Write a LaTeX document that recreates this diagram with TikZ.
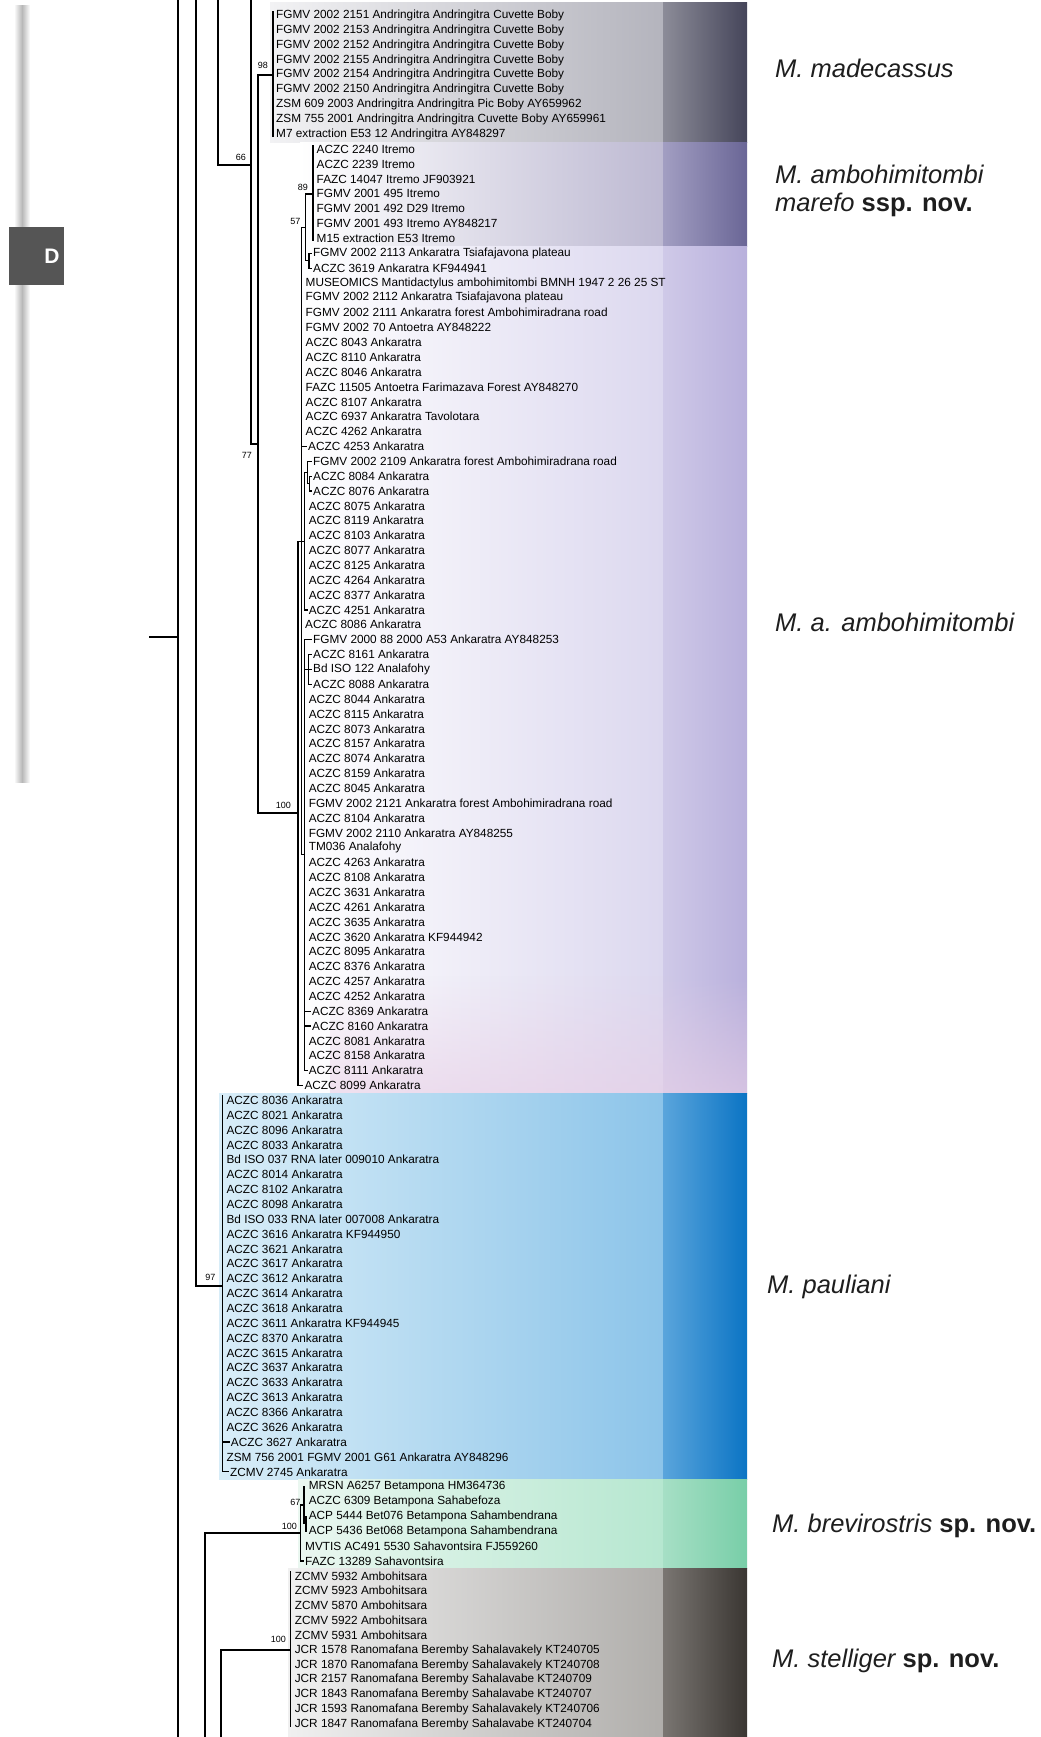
\documentclass[tikz,border=0pt]{standalone}
\usepackage{fontspec}
\setmainfont{Liberation Sans}
\usetikzlibrary{calc,fadings}
\pgfmathdeclarefunction{ry}{1}{\pgfmathparse{15.5+(#1-1)*14.86}}
\definecolor{madL}{HTML}{F2F2F4}
\definecolor{madA}{HTML}{B4B4BD}
\definecolor{madB}{HTML}{8C8C98}
\definecolor{madC}{HTML}{45455A}
\definecolor{marA}{HTML}{BDB9D2}
\definecolor{marB}{HTML}{A29EC2}
\definecolor{marC}{HTML}{6A6696}
\definecolor{ambA}{HTML}{DCD8EF}
\definecolor{ambB}{HTML}{CFC9E8}
\definecolor{ambC}{HTML}{B8B0DC}
\definecolor{pinkc}{HTML}{E8CFE6}
\definecolor{pauL}{HTML}{D8EDF8}
\definecolor{pauA}{HTML}{8CC4E9}
\definecolor{pauB}{HTML}{5AA5DC}
\definecolor{pauC}{HTML}{0B74C4}
\definecolor{breL}{HTML}{EAF7F0}
\definecolor{breA}{HTML}{B6E7D0}
\definecolor{breB}{HTML}{A6DFC5}
\definecolor{breC}{HTML}{78CEA8}
\definecolor{steL}{HTML}{F0F0F0}
\definecolor{steA}{HTML}{B0AEAB}
\definecolor{steB}{HTML}{7A7672}
\definecolor{steC}{HTML}{3A3632}
\definecolor{dgray}{HTML}{555555}
\definecolor{labc}{HTML}{1E1E1E}
\begin{document}
\begin{tikzpicture}[x=1pt,y=-1pt,
  tip/.style={anchor=west,inner xsep=1.5pt,inner ysep=0pt,font=\fontsize{11.8}{13}\selectfont},
  br/.style={line width=1.2pt,line cap=rect},
  bs/.style={anchor=east,inner sep=0pt,font=\fontsize{9}{10}\selectfont},
  clade/.style={anchor=west,inner sep=0pt,text=labc,font=\fontsize{25.5}{28}\selectfont\itshape}]
\fill[white] (0,0) rectangle (1041,1737);
\useasboundingbox (0,0) rectangle (1041,1737);
% ---- colour bands
\shade[left color=madL,right color=madA] (270,3) rectangle (663,142);
\shade[left color=madB,right color=madC] (663,3) rectangle (747,142);
\shade[left color=white,right color=marA] (300,142) rectangle (663,246);
\shade[left color=marB,right color=marC] (663,142) rectangle (747,246);
\shade[left color=white,right color=ambA] (296,246) rectangle (663,1093);
\shade[left color=ambB,right color=ambC] (663,246) rectangle (747,1093);
\fill[pinkc,path fading=north,fill opacity=0.6] (330,975) rectangle (747,1093);
\shade[left color=pauL,right color=pauA] (219,1093) rectangle (663,1479);
\shade[left color=pauB,right color=pauC] (663,1093) rectangle (747,1479);
\shade[left color=breL,right color=breA] (298,1479) rectangle (663,1568);
\shade[left color=breB,right color=breC] (663,1479) rectangle (747,1568);
\shade[left color=steL,right color=steA] (288,1568) rectangle (663,1737);
\shade[left color=steB,right color=steC] (663,1568) rectangle (747,1737);
% ---- left panel marker
\shade[left color=white,right color=white,middle color=black!28] (14,6) rectangle (30,782);
\fill[dgray] (9,227) rectangle (64,285);
\node[text=white,font=\bfseries\fontsize{21}{21}\selectfont,inner sep=0pt] (dlab) at (52,256) {D};
% ---- tips
\foreach \i/\xx/\txt in {
1/276/FGMV 2002 2151 Andringitra Andringitra Cuvette Boby,
2/276/FGMV 2002 2153 Andringitra Andringitra Cuvette Boby,
3/276/FGMV 2002 2152 Andringitra Andringitra Cuvette Boby,
4/276/FGMV 2002 2155 Andringitra Andringitra Cuvette Boby,
5/276/FGMV 2002 2154 Andringitra Andringitra Cuvette Boby,
6/276/FGMV 2002 2150 Andringitra Andringitra Cuvette Boby,
7/276/ZSM 609 2003 Andringitra Andringitra Pic Boby AY659962,
8/276/ZSM 755 2001 Andringitra Andringitra Cuvette Boby AY659961,
9/276/M7 extraction E53 12 Andringitra AY848297,
10/316.5/ACZC 2240 Itremo,
11/316.5/ACZC 2239 Itremo,
12/316.5/FAZC 14047 Itremo JF903921,
13/316.5/FGMV 2001 495 Itremo,
14/316.5/FGMV 2001 492 D29 Itremo,
15/316.5/FGMV 2001 493 Itremo AY848217,
16/316.5/M15 extraction E53 Itremo,
17/313/FGMV 2002 2113 Ankaratra Tsiafajavona plateau,
18/313/ACZC 3619 Ankaratra KF944941,
19/305.5/MUSEOMICS Mantidactylus ambohimitombi BMNH 1947 2 26 25 ST,
20/305.5/FGMV 2002 2112 Ankaratra Tsiafajavona plateau,
21/305.5/FGMV 2002 2111 Ankaratra forest Ambohimiradrana road,
22/305.5/FGMV 2002 70 Antoetra AY848222,
23/305.5/ACZC 8043 Ankaratra,
24/305.5/ACZC 8110 Ankaratra,
25/305.5/ACZC 8046 Ankaratra,
26/305.5/FAZC 11505 Antoetra Farimazava Forest AY848270,
27/305.5/ACZC 8107 Ankaratra,
28/305.5/ACZC 6937 Ankaratra Tavolotara,
29/305.5/ACZC 4262 Ankaratra,
30/308/ACZC 4253 Ankaratra,
31/313/FGMV 2002 2109 Ankaratra forest Ambohimiradrana road,
32/313/ACZC 8084 Ankaratra,
33/313/ACZC 8076 Ankaratra,
34/308.6/ACZC 8075 Ankaratra,
35/308.6/ACZC 8119 Ankaratra,
36/308.6/ACZC 8103 Ankaratra,
37/308.6/ACZC 8077 Ankaratra,
38/308.6/ACZC 8125 Ankaratra,
39/308.6/ACZC 4264 Ankaratra,
40/308.6/ACZC 8377 Ankaratra,
41/308.6/ACZC 4251 Ankaratra,
42/305/ACZC 8086 Ankaratra,
43/313/FGMV 2000 88 2000 A53 Ankaratra AY848253,
44/313/ACZC 8161 Ankaratra,
45/313/Bd ISO 122 Analafohy,
46/313/ACZC 8088 Ankaratra,
47/308.6/ACZC 8044 Ankaratra,
48/308.6/ACZC 8115 Ankaratra,
49/308.6/ACZC 8073 Ankaratra,
50/308.6/ACZC 8157 Ankaratra,
51/308.6/ACZC 8074 Ankaratra,
52/308.6/ACZC 8159 Ankaratra,
53/308.6/ACZC 8045 Ankaratra,
54/308.6/FGMV 2002 2121 Ankaratra forest Ambohimiradrana road,
55/308.6/ACZC 8104 Ankaratra,
56/308.6/FGMV 2002 2110 Ankaratra AY848255,
57/308.6/TM036 Analafohy,
58/308.6/ACZC 4263 Ankaratra,
59/308.6/ACZC 8108 Ankaratra,
60/308.6/ACZC 3631 Ankaratra,
61/308.6/ACZC 4261 Ankaratra,
62/308.6/ACZC 3635 Ankaratra,
63/308.6/ACZC 3620 Ankaratra KF944942,
64/308.6/ACZC 8095 Ankaratra,
65/308.6/ACZC 8376 Ankaratra,
66/308.6/ACZC 4257 Ankaratra,
67/308.6/ACZC 4252 Ankaratra,
68/312/ACZC 8369 Ankaratra,
69/312/ACZC 8160 Ankaratra,
70/308.6/ACZC 8081 Ankaratra,
71/308.6/ACZC 8158 Ankaratra,
72/308.6/ACZC 8111 Ankaratra,
73/304.3/ACZC 8099 Ankaratra,
74/226.4/ACZC 8036 Ankaratra,
75/226.4/ACZC 8021 Ankaratra,
76/226.4/ACZC 8096 Ankaratra,
77/226.4/ACZC 8033 Ankaratra,
78/226.4/Bd ISO 037 RNA later 009010 Ankaratra,
79/226.4/ACZC 8014 Ankaratra,
80/226.4/ACZC 8102 Ankaratra,
81/226.4/ACZC 8098 Ankaratra,
82/226.4/Bd ISO 033 RNA later 007008 Ankaratra,
83/226.4/ACZC 3616 Ankaratra KF944950,
84/226.4/ACZC 3621 Ankaratra,
85/226.4/ACZC 3617 Ankaratra,
86/226.4/ACZC 3612 Ankaratra,
87/226.4/ACZC 3614 Ankaratra,
88/226.4/ACZC 3618 Ankaratra,
89/226.4/ACZC 3611 Ankaratra KF944945,
90/226.4/ACZC 8370 Ankaratra,
91/226.4/ACZC 3615 Ankaratra,
92/226.4/ACZC 3637 Ankaratra,
93/226.4/ACZC 3633 Ankaratra,
94/226.4/ACZC 3613 Ankaratra,
95/226.4/ACZC 8366 Ankaratra,
96/226.4/ACZC 3626 Ankaratra,
97/230.7/ACZC 3627 Ankaratra,
98/226.4/ZSM 756 2001 FGMV 2001 G61 Ankaratra AY848296,
99/230/ZCMV 2745 Ankaratra,
100/308.6/MRSN A6257 Betampona HM364736,
101/308.6/ACZC 6309 Betampona Sahabefoza,
102/308.6/ACP 5444 Bet076 Betampona Sahambendrana,
103/308.6/ACP 5436 Bet068 Betampona Sahambendrana,
104/305/MVTIS AC491 5530 Sahavontsira FJ559260,
105/305/FAZC 13289 Sahavontsira,
106/294.6/ZCMV 5932 Ambohitsara,
107/294.6/ZCMV 5923 Ambohitsara,
108/294.6/ZCMV 5870 Ambohitsara,
109/294.6/ZCMV 5922 Ambohitsara,
110/294.6/ZCMV 5931 Ambohitsara,
111/294.6/JCR 1578 Ranomafana Beremby Sahalavakely KT240705,
112/294.6/JCR 1870 Ranomafana Beremby Sahalavakely KT240708,
113/294.6/JCR 2157 Ranomafana Beremby Sahalavabe KT240709,
114/294.6/JCR 1843 Ranomafana Beremby Sahalavabe KT240707,
115/294.6/JCR 1593 Ranomafana Beremby Sahalavakely KT240706,
116/294.6/JCR 1847 Ranomafana Beremby Sahalavabe KT240704}
{\node[tip] (t\i) at ({\xx-1.5},{ry(\i)}) {\txt};}
% ---- internal node coordinates
\coordinate (l0a) at (178,0);
\coordinate (l0b) at (178,1737);
\coordinate (stub) at (150,637);
\coordinate (stubj) at (178,637);
\coordinate (l1a) at (196,0);
\coordinate (npau) at (222.5,1286);
\coordinate (l2a) at (218,0);
\coordinate (n66) at (251,165);
\coordinate (n66a) at (251,0);
\coordinate (n77) at (258,444);
\coordinate (n77a) at (258,75);
\coordinate (n77b) at (258,813);
\coordinate (nmad) at (273,75);
\coordinate (nN) at (298,813);
\coordinate (nNa) at (298,541.5);
\coordinate (nC) at (301.5,541.5);
\coordinate (nCa) at (301.5,227.3);
\coordinate (nCb) at (301.5,854.8);
\coordinate (nP) at (305.7,227.3);
\coordinate (nPa) at (305.7,193.9);
\coordinate (nPb) at (305.7,260.7);
\coordinate (n89) at (313,193.9);
\coordinate (nB) at (309,260.7);
\coordinate (nF) at (304.5,541.5);
\coordinate (nFa) at (304.5,472.5);
\coordinate (nG) at (307.5,472.5);
\coordinate (nGb) at (307.5,483.6);
\coordinate (nH) at (309.5,483.6);
\coordinate (nE) at (304.5,854.8);
\coordinate (nEi) at (304.5,669.3);
\coordinate (nI) at (308.5,669.3);
\coordinate (b205) at (205,1737);
\coordinate (nQ) at (300.7,1533);
\coordinate (nQa) at (300.7,1505);
\coordinate (nR) at (304,1505);
\coordinate (nRb) at (304,1523.8);
\coordinate (nS) at (306,1523.8);
\coordinate (b221) at (221,1737);
\coordinate (nT) at (290.5,1650);
% ---- branches
\begin{scope}[br]
\draw (l0a) -- (l0b);
\draw (stub) -- (stubj);
\draw (l1a) |- (npau);
\draw ($(npau |- t74.west)+(0,-5)$) -- (npau |- t99.west) -- (t99.west);
\draw (npau |- t97.west) -- (t97.west);
\draw (l2a) |- (n66);
\draw (n66a) |- (n77);
\draw (n77a) -- (n77b) -- (nN);
\draw (n77a) -- (nmad);
\draw ($(nmad |- t1.west)+(0,-4)$) -- ($(nmad |- t9.west)+(0,2)$);
\draw (nN |- nNa) -- (nN |- t73.west) -- (t73.west);
\draw (nNa) -- (nC);
\draw (nCa) -- (nCb) -- (nE);
\draw (nCa) -- (nP);
\draw (nPa) -- (nPb) -- (nB);
\draw (nPa) -- (n89);
\draw ($(n89 |- t10.west)+(0,-4)$) -- ($(n89 |- t16.west)+(0,2)$);
\draw (nB |- t17.west) -- (nB |- t18.west);
\draw (nB |- t17.west) -- (t17.west);
\draw (nB |- t18.west) -- (t18.west);
\draw (nCa |- t30.west) -- (t30.west);
\draw (nC) -- (nF);
\draw (nFa) -- (nF |- t41.west) -- (t41.west);
\draw (nFa) -- (nG);
\draw (nG |- t31.west) -- (nGb) -- (nH);
\draw (nG |- t31.west) -- (t31.west);
\draw (nH |- t32.west) -- (nH |- t33.west);
\draw (nH |- t32.west) -- (t32.west);
\draw (nH |- t33.west) -- (t33.west);
\draw (nE |- t43.west) -- (nE |- t72.west) -- (t72.west);
\draw (nE |- t43.west) -- (t43.west);
\draw (nEi) -- (nI);
\draw (nI |- t44.west) -- (nI |- t46.west);
\draw (nI |- t44.west) -- (t44.west);
\draw (nI |- t45.west) -- (t45.west);
\draw (nI |- t46.west) -- (t46.west);
\draw (nE |- t68.west) -- (t68.west);
\draw (nE |- t69.west) -- (t69.west);
\draw (b205) |- (nQ);
\draw (nQa) -- (nQ |- t105.west) -- (t105.west);
\draw (nQa) -- (nR);
\draw (nR |- t100.west) -- (nRb) -- (nS);
\draw (nS |- t102.west) -- (nS |- t103.west);
\draw (b221) |- (nT);
\draw ($(nT |- t106.west)+(0,-4)$) -- ($(nT |- t116.west)+(0,2)$);
\end{scope}
% ---- support values
\node[bs] (s98) at (268,65) {98};
\node[bs] (s66) at (246,157) {66};
\node[bs] (s77) at (252,455) {77};
\node[bs] (s89) at (308,187) {89};
\node[bs] (s57) at (300.5,221) {57};
\node[bs] (s100a) at (291,805) {100};
\node[bs] (s97) at (215.5,1277) {97};
\node[bs] (s67) at (300.5,1502) {67};
\node[bs] (s100b) at (297,1526) {100};
\node[bs] (s100c) at (286,1639) {100};
% ---- clade labels
\node[clade] (lmad) at (775,68.6) {M. madecassus};
\node[clade,align=left] (lamb) at (775,191) {M. ambohimitombi\\marefo {\upshape\bfseries ssp. nov.}};
\node[clade] (laa) at (775,622) {M. a. ambohimitombi};
\node[clade] (lpau) at (767,1287) {M. pauliani};
\node[clade] (lbre) at (772,1526) {M. brevirostris {\upshape\bfseries sp. nov.}};
\node[clade] (lste) at (772,1661) {M. stelliger {\upshape\bfseries sp. nov.}};
\end{tikzpicture}
\end{document}
